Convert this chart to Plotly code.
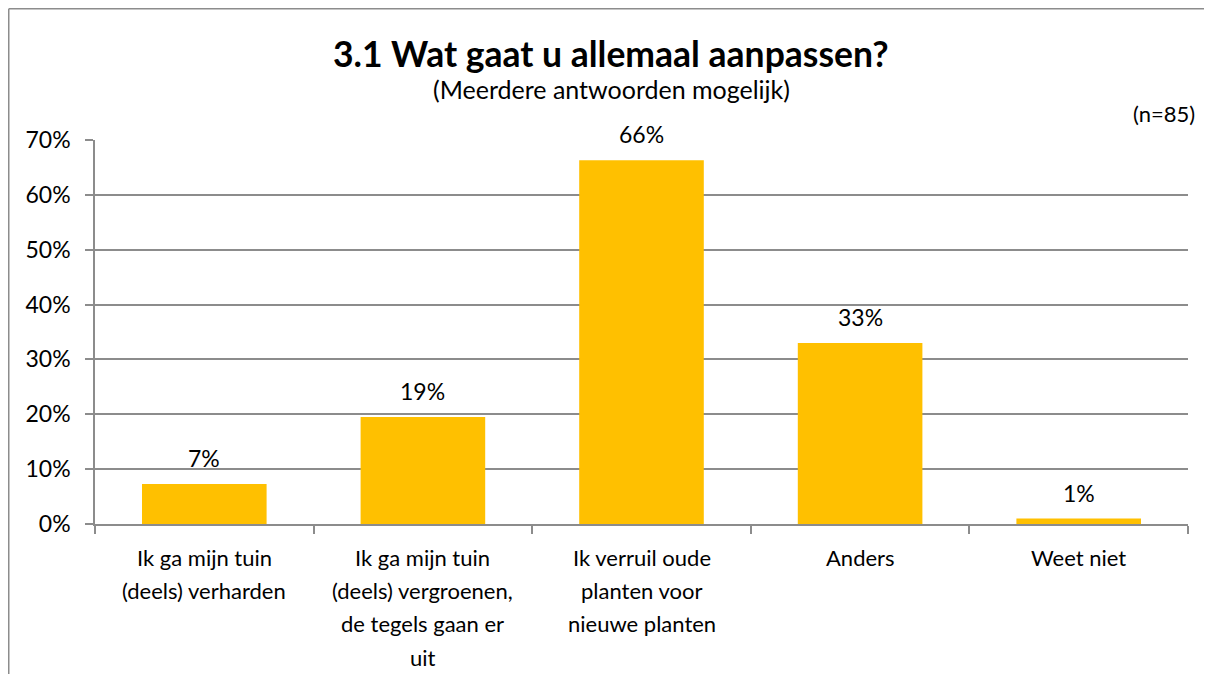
import plotly.graph_objects as go

categories = [
    "Ik ga mijn tuin\n(deels) verharden",
    "Ik ga mijn tuin\n(deels) vergroenen,\nde tegels gaan er\nuit",
    "Ik verruil oude\nplanten voor\nnieuwe planten",
    "Anders",
    "Weet niet",
]
values = [7.3, 19.5, 66.3, 33.0, 1.0]
labels = ["7%", "19%", "66%", "33%", "1%"]
y_ticks = [0, 10, 20, 30, 40, 50, 60, 70]

title = "3.1 Wat gaat u allemaal aanpassen?"
subtitle = "(Meerdere antwoorden mogelijk)"
n_note = "(n=85)"

FONT = "Lato"
GRID = "#8c8c8c"
BAR = "#FFC000"

# figure is drawn at an 8px page offset (body margin)
W, H = 1196, 666
ML, MR, MT, MB = 87, 16, 132, 150
PW, PH = W - ML - MR, H - MT - MB

x_keys = [f"c{i}" for i in range(len(categories))]

fig = go.Figure(
    go.Bar(
        x=x_keys,
        y=values,
        marker=dict(color=BAR, line=dict(width=0)),
        width=0.57,
        hoverinfo="skip",
    )
)

annotations = []
for k, v, t in zip(x_keys, values, labels):
    annotations.append(dict(
        x=k, y=v, xref="x", yref="y", text=t, showarrow=False,
        yanchor="middle", yshift=26,
        font=dict(family=FONT, size=23, color="#000000"),
    ))
for k, cat in zip(x_keys, categories):
    for i, line in enumerate(cat.split("\n")):
        annotations.append(dict(
            x=k, y=0, xref="x", yref="y", text=line, showarrow=False,
            yanchor="middle", yshift=-(33 + 33.4 * i),
            font=dict(family=FONT, size=22, color="#000000"),
        ))
annotations.append(dict(
    x=0.5, y=1, xref="paper", yref="paper", text="<b>" + title + "</b>",
    showarrow=False, yanchor="middle", yshift=87, xshift=-31,
    font=dict(family=FONT, size=35.5, color="#000000"),
))
annotations.append(dict(
    x=0.5, y=1, xref="paper", yref="paper", text=subtitle,
    showarrow=False, yanchor="middle", yshift=51, xshift=-30,
    font=dict(family=FONT, size=25, color="#000000"),
))
annotations.append(dict(
    x=1, y=1, xref="paper", yref="paper", text=n_note,
    showarrow=False, xanchor="right", yanchor="middle", yshift=27, xshift=9,
    font=dict(family=FONT, size=22, color="#000000"),
))

left_x = -(ML - 0.75) / PW
top_y = 1 + (MT - 0.75) / PH
fig.update_layout(
    width=W, height=H,
    margin=dict(l=ML, r=MR, t=MT, b=MB),
    paper_bgcolor="white", plot_bgcolor="white",
    showlegend=False,
    font=dict(family=FONT, size=22, color="#000000"),
    annotations=annotations,
    shapes=[
        dict(type="line", xref="paper", yref="paper",
             x0=left_x, x1=left_x, y0=-(MB + 5) / PH, y1=top_y,
             line=dict(color="#8c8c8c", width=1.5), layer="below"),
        dict(type="line", xref="paper", yref="paper",
             x0=left_x, x1=1 + (MR + 5) / PW, y0=top_y, y1=top_y,
             line=dict(color="#8c8c8c", width=1.5), layer="below"),
    ],
)

fig.update_xaxes(
    showticklabels=False, showgrid=False, zeroline=False,
    showline=True, linecolor=GRID, linewidth=1.5,
    ticks="outside", ticklen=8, tickcolor=GRID, tickwidth=1.5,
    tickson="boundaries", fixedrange=True,
)
fig.update_yaxes(
    range=[0, 70], tickvals=y_ticks,
    ticktext=[f"{v}%" for v in y_ticks],
    showgrid=True, gridcolor=GRID, gridwidth=1.5,
    zeroline=False, showline=True, linecolor=GRID, linewidth=1.5,
    ticks="outside", ticklen=8, tickcolor=GRID, tickwidth=1.5,
    ticklabelstandoff=10,
    tickfont=dict(family=FONT, size=23, color="#000000"),
    fixedrange=True,
)

fig.write_html("out.html", config={"displayModeBar": False})
